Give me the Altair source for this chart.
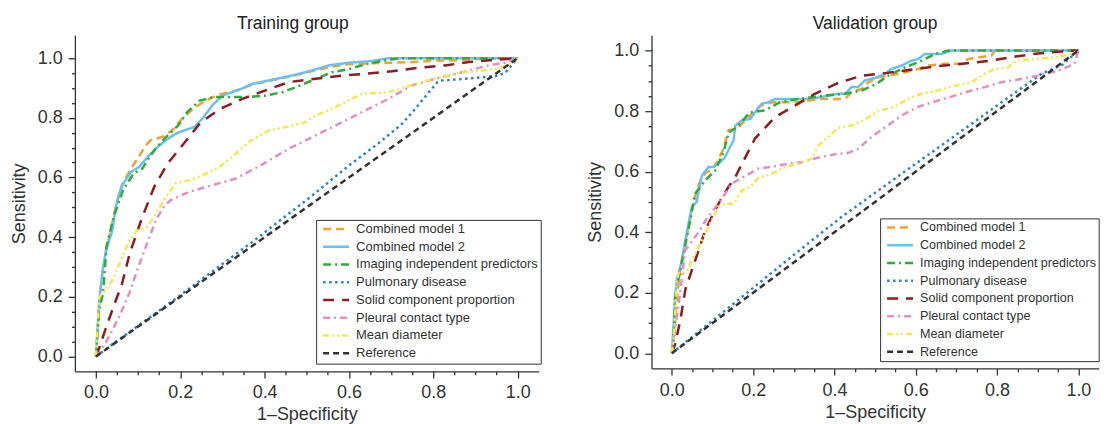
import altair as alt
import pandas as pd

# ---------------- data ----------------
series = ["Combined model 1", "Combined model 2", "Imaging independent predictors",
          "Pulmonary disease", "Solid component proportion", "Pleural contact type",
          "Mean diameter", "Reference"]
colors = ["#F0A22E", "#6CC0EE", "#2EAB3B", "#2A84C6", "#8B1E22", "#E48FC3", "#F5E74F", "#333333"]
dashes = [[8, 5], [1, 0], [8, 4, 2, 4], [2.5, 3.5], [11, 8], [7, 4, 2, 4], [6, 3, 2, 3, 2, 3], [6, 4]]
widths = [2.5, 2.5, 2.5, 2.5, 2.5, 2.5, 2.5, 1.2]

# Training group
tr_cm1_x = [0, 0.008, 0.016, 0.024, 0.035, 0.047, 0.055, 0.063, 0.079, 0.091, 0.104, 0.118, 0.13, 0.158, 0.181, 0.201, 0.221, 0.245, 0.276, 0.30, 0.339, 0.371, 0.418, 0.465, 0.513, 0.552, 0.60, 0.65, 0.70, 0.75, 0.804, 0.86, 0.914, 0.96, 1.0]
tr_cm1_y = [0, 0.19, 0.29, 0.356, 0.423, 0.501, 0.546, 0.58, 0.62, 0.647, 0.675, 0.708, 0.725, 0.736, 0.758, 0.792, 0.819, 0.845, 0.869, 0.881, 0.894, 0.912, 0.926, 0.94, 0.957, 0.97, 0.98, 0.983, 0.985, 0.987, 0.992, 0.993, 0.998, 1.0, 1.0]
tr_cm2_x = [0, 0.008, 0.016, 0.024, 0.039, 0.047, 0.055, 0.063, 0.083, 0.102, 0.126, 0.142, 0.166, 0.189, 0.213, 0.233, 0.252, 0.276, 0.30, 0.339, 0.371, 0.418, 0.465, 0.513, 0.552, 0.60, 0.65, 0.694, 0.75, 0.85, 1.0]
tr_cm2_y = [0, 0.19, 0.29, 0.356, 0.423, 0.50, 0.546, 0.575, 0.618, 0.635, 0.674, 0.697, 0.725, 0.747, 0.76, 0.769, 0.797, 0.842, 0.875, 0.894, 0.914, 0.928, 0.942, 0.959, 0.976, 0.985, 0.99, 1.0, 1.0, 1.0, 1.0]
tr_img_x = [0, 0.008, 0.017, 0.025, 0.042, 0.064, 0.089, 0.11, 0.127, 0.144, 0.17, 0.195, 0.216, 0.246, 0.28, 0.311, 0.363, 0.402, 0.442, 0.485, 0.52, 0.56, 0.60, 0.643, 0.694, 0.726, 0.85, 1.0]
tr_img_y = [0, 0.16, 0.212, 0.368, 0.468, 0.557, 0.613, 0.63, 0.669, 0.702, 0.741, 0.775, 0.819, 0.858, 0.87, 0.87, 0.87, 0.875, 0.886, 0.909, 0.93, 0.953, 0.964, 0.981, 0.995, 1.0, 1.0, 1.0]
tr_pul_x = [0, 0.1, 0.2, 0.3, 0.387, 0.437, 0.5, 0.6, 0.67, 0.726, 0.757, 0.789, 0.81, 0.82, 0.876, 0.915, 0.947, 0.97, 1.0]
tr_pul_y = [0, 0.103, 0.205, 0.31, 0.401, 0.457, 0.525, 0.64, 0.715, 0.78, 0.83, 0.885, 0.92, 0.925, 0.931, 0.936, 0.94, 0.95, 1.0]
tr_sol_x = [0, 0.008, 0.022, 0.045, 0.062, 0.08, 0.11, 0.138, 0.17, 0.205, 0.249, 0.296, 0.347, 0.402, 0.457, 0.521, 0.584, 0.639, 0.702, 0.765, 0.828, 0.884, 0.947, 1.0]
tr_sol_y = [0, 0.03, 0.089, 0.18, 0.245, 0.345, 0.468, 0.568, 0.647, 0.708, 0.786, 0.831, 0.864, 0.892, 0.92, 0.931, 0.942, 0.948, 0.956, 0.968, 0.976, 0.987, 0.995, 1.0]
tr_ple_x = [0, 0.008, 0.031, 0.055, 0.079, 0.098, 0.118, 0.142, 0.16, 0.177, 0.221, 0.276, 0.331, 0.387, 0.458, 0.529, 0.576, 0.639, 0.694, 0.749, 0.804, 0.868, 0.931, 0.97, 1.0]
tr_ple_y = [0, 0.011, 0.066, 0.133, 0.212, 0.29, 0.367, 0.457, 0.50, 0.524, 0.552, 0.574, 0.596, 0.638, 0.697, 0.747, 0.78, 0.825, 0.864, 0.909, 0.931, 0.953, 0.976, 0.985, 1.0]
tr_mea_x = [0, 0.004, 0.008, 0.024, 0.039, 0.059, 0.079, 0.098, 0.122, 0.142, 0.166, 0.189, 0.221, 0.252, 0.292, 0.323, 0.363, 0.41, 0.45, 0.497, 0.521, 0.568, 0.631, 0.694, 0.757, 0.813, 0.868, 0.915, 0.947, 0.975, 1.0]
tr_mea_y = [0, 0.1, 0.2, 0.223, 0.256, 0.323, 0.39, 0.423, 0.434, 0.479, 0.535, 0.58, 0.591, 0.607, 0.635, 0.669, 0.72, 0.758, 0.769, 0.786, 0.808, 0.836, 0.881, 0.886, 0.914, 0.936, 0.953, 0.959, 0.964, 0.975, 1.0]
tr_ref_x = [0, 1]
tr_ref_y = [0, 1]

# Validation group
va_cm1_x = [0, 0.004, 0.012, 0.021, 0.029, 0.041, 0.053, 0.061, 0.074, 0.086, 0.098, 0.111, 0.127, 0.139, 0.16, 0.18, 0.193, 0.213, 0.229, 0.25, 0.311, 0.36, 0.409, 0.426, 0.442, 0.467, 0.483, 0.508, 0.565, 0.606, 0.63, 0.671, 0.712, 0.729, 0.786, 0.794, 1.0]
va_cm1_y = [0, 0.04, 0.176, 0.285, 0.34, 0.417, 0.494, 0.538, 0.582, 0.598, 0.604, 0.631, 0.675, 0.736, 0.741, 0.769, 0.785, 0.813, 0.824, 0.829, 0.829, 0.84, 0.84, 0.84, 0.862, 0.873, 0.895, 0.911, 0.925, 0.939, 0.95, 0.956, 0.956, 0.972, 0.983, 1.0, 1.0]
va_cm2_x = [0, 0.004, 0.008, 0.012, 0.025, 0.033, 0.041, 0.049, 0.061, 0.066, 0.074, 0.09, 0.102, 0.119, 0.131, 0.143, 0.152, 0.156, 0.172, 0.193, 0.205, 0.221, 0.237, 0.254, 0.344, 0.409, 0.426, 0.442, 0.458, 0.475, 0.50, 0.524, 0.54, 0.565, 0.589, 0.606, 0.622, 0.663, 0.688, 1.0]
va_cm2_y = [0, 0.088, 0.186, 0.242, 0.307, 0.373, 0.428, 0.483, 0.50, 0.538, 0.587, 0.615, 0.615, 0.631, 0.648, 0.681, 0.703, 0.752, 0.769, 0.774, 0.796, 0.824, 0.829, 0.84, 0.84, 0.857, 0.857, 0.879, 0.879, 0.901, 0.909, 0.923, 0.939, 0.95, 0.966, 0.972, 0.988, 0.988, 1.0, 1.0]
va_img_x = [0, 0.004, 0.008, 0.016, 0.029, 0.041, 0.049, 0.057, 0.082, 0.107, 0.127, 0.14, 0.16, 0.192, 0.229, 0.266, 0.311, 0.377, 0.426, 0.467, 0.504, 0.532, 0.573, 0.606, 0.647, 0.68, 1.0]
va_img_y = [0, 0.033, 0.186, 0.242, 0.329, 0.41, 0.467, 0.527, 0.571, 0.604, 0.664, 0.73, 0.746, 0.796, 0.802, 0.829, 0.84, 0.851, 0.857, 0.868, 0.89, 0.917, 0.944, 0.961, 0.988, 1.0, 1.0]
va_pul_x = [0, 0.1, 0.2, 0.3, 0.417, 0.5, 0.6, 0.7, 0.8, 0.909, 0.96, 1.0]
va_pul_y = [0, 0.108, 0.216, 0.325, 0.45, 0.53, 0.626, 0.722, 0.818, 0.923, 0.952, 1.0]
va_sol_x = [0, 0.008, 0.021, 0.033, 0.049, 0.066, 0.082, 0.098, 0.119, 0.139, 0.156, 0.174, 0.205, 0.254, 0.299, 0.352, 0.409, 0.468, 0.53, 0.591, 0.653, 0.72, 0.782, 0.845, 0.90, 0.962, 1.0]
va_sol_y = [0, 0.03, 0.11, 0.209, 0.274, 0.34, 0.406, 0.45, 0.505, 0.549, 0.582, 0.63, 0.71, 0.78, 0.815, 0.857, 0.893, 0.917, 0.926, 0.937, 0.948, 0.957, 0.966, 0.98, 0.99, 0.997, 1.0]
va_ple_x = [0, 0.004, 0.016, 0.033, 0.045, 0.066, 0.086, 0.111, 0.131, 0.147, 0.18, 0.213, 0.25, 0.287, 0.319, 0.36, 0.401, 0.434, 0.458, 0.491, 0.524, 0.565, 0.606, 0.655, 0.696, 0.737, 0.77, 0.81, 0.86, 0.90, 0.95, 0.99, 1.0]
va_ple_y = [0, 0.04, 0.154, 0.34, 0.362, 0.40, 0.445, 0.489, 0.527, 0.56, 0.585, 0.61, 0.617, 0.626, 0.631, 0.646, 0.657, 0.662, 0.675, 0.714, 0.746, 0.785, 0.814, 0.835, 0.851, 0.868, 0.879, 0.895, 0.906, 0.917, 0.933, 0.955, 1.0]
va_mea_x = [0, 0.004, 0.012, 0.016, 0.037, 0.049, 0.066, 0.082, 0.098, 0.115, 0.131, 0.152, 0.172, 0.193, 0.213, 0.246, 0.278, 0.311, 0.344, 0.36, 0.393, 0.413, 0.442, 0.475, 0.508, 0.549, 0.581, 0.614, 0.655, 0.696, 0.737, 0.77, 0.794, 0.827, 0.847, 0.892, 0.941, 0.982, 1.0]
va_mea_y = [0, 0.04, 0.231, 0.264, 0.269, 0.307, 0.351, 0.395, 0.439, 0.483, 0.494, 0.494, 0.538, 0.549, 0.58, 0.593, 0.615, 0.626, 0.643, 0.686, 0.725, 0.747, 0.752, 0.772, 0.8, 0.815, 0.84, 0.857, 0.868, 0.884, 0.895, 0.923, 0.939, 0.944, 0.966, 0.972, 0.977, 0.988, 1.0]
va_ref_x = [0, 1]
va_ref_y = [0, 1]

tick_values = [round(i * 0.05, 2) for i in range(21)]

train_sets = [(tr_cm1_x, tr_cm1_y), (tr_cm2_x, tr_cm2_y), (tr_img_x, tr_img_y), (tr_pul_x, tr_pul_y),
              (tr_sol_x, tr_sol_y), (tr_ple_x, tr_ple_y), (tr_mea_x, tr_mea_y), (tr_ref_x, tr_ref_y)]
valid_sets = [(va_cm1_x, va_cm1_y), (va_cm2_x, va_cm2_y), (va_img_x, va_img_y), (va_pul_x, va_pul_y),
              (va_sol_x, va_sol_y), (va_ple_x, va_ple_y), (va_mea_x, va_mea_y), (va_ref_x, va_ref_y)]


def frame(sets):
    rows = []
    for name, (xs, ys) in zip(series, sets):
        for i, (a, b) in enumerate(zip(xs, ys)):
            rows.append({"series": name, "idx": i, "x": a, "y": b})
    return pd.DataFrame(rows)


FONT = "Liberation Sans"
INK = "#333333"
major_test = "round(datum.value * 20) % 4 == 0"


def make_axis(title, pad):
    return alt.Axis(
        title=title, values=tick_values,
        labelExpr="round(datum.value * 20) % 4 == 0 ? format(datum.value, '.1f') : ''",
        tickSize={"condition": {"test": major_test, "value": 6.7}, "value": 3.4},
        grid=False, labelFlush=False, labelOverlap=False,
        labelFont=FONT, labelFontSize=18, labelColor=INK, labelPadding=6,
        titleFont=FONT, titleFontSize=18, titleColor=INK, titleFontWeight="normal",
        titlePadding=pad, domainColor=INK, domainWidth=1.3, tickColor=INK, tickWidth=1.3,
    )


def panel(sets, title, w, h, ytop, lx, ly, tdx, lfs):
    leg = alt.Legend(
        title=None, orient="none", legendX=lx, legendY=ly, symbolType="stroke", symbolSize=676,
        labelFont=FONT, labelFontSize=lfs, labelColor=INK, labelOffset=5.5, labelLimit=400,
        strokeColor=INK, fillColor="white", padding=2.5, rowPadding=3.8, clipHeight=13,
        symbolOffset=3,
    )
    return alt.Chart(frame(sets), title=alt.TitleParams(title, dx=tdx, dy=3)).mark_line(clip=True).encode(
        x=alt.X("x:Q", scale=alt.Scale(domain=[-0.05, 1.05], nice=False, zero=False), axis=make_axis("1–Specificity", 4)),
        y=alt.Y("y:Q", scale=alt.Scale(domain=[-0.05, ytop], nice=False, zero=False), axis=make_axis("Sensitivity", 9)),
        color=alt.Color("series:N", sort=series, scale=alt.Scale(domain=series, range=colors), legend=leg),
        strokeDash=alt.StrokeDash("series:N", sort=series, scale=alt.Scale(domain=series, range=dashes), legend=leg),
        strokeWidth=alt.StrokeWidth("series:N", sort=series, scale=alt.Scale(domain=series, range=widths), legend=leg),
        order=alt.Order("idx:Q"),
    ).properties(width=w, height=h)


left = panel(train_sets, "Training group", 464.7, 336.6, 1.0768, 241.7, 184.9, -14, 13)
right = panel(valid_sets, "Validation group", 448, 333.7, 1.05, 229, 183.4, 0, 12.6)

chart = alt.hconcat(left, right, spacing=112.7, bounds="flush").resolve_scale(
    color="independent", strokeDash="independent", strokeWidth="independent"
).resolve_legend(
    color="independent", strokeDash="independent", strokeWidth="independent"
).properties(
    padding={"left": 2, "top": 6, "right": 0, "bottom": 0}
).configure_view(stroke=None).configure_title(
    font=FONT, fontSize=17.5, fontWeight="normal", color="#222222", anchor="middle", offset=6
)

chart.save("out.html", embed_options={"renderer": "svg", "actions": False})
